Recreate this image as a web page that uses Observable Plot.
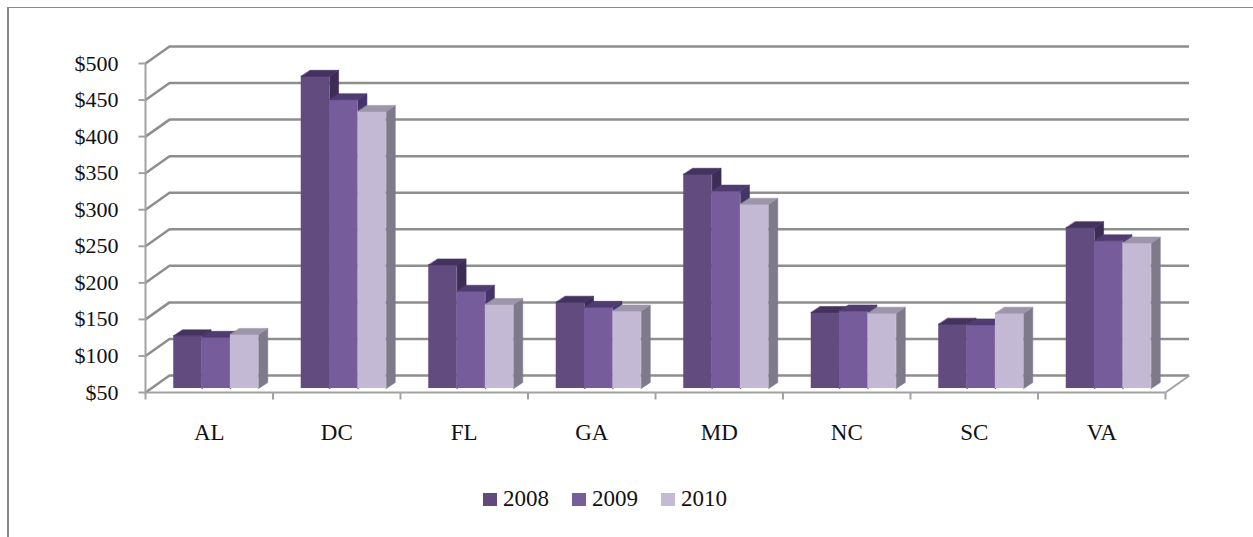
<!DOCTYPE html>
<html><head><meta charset="utf-8">
<script src="https://cdn.jsdelivr.net/npm/d3@7"></script>
<script src="https://cdn.jsdelivr.net/npm/@observablehq/plot@0.6"></script>
<style>
body{margin:0;background:#fff;}
#wrap{position:relative;width:1253px;height:537px;overflow:hidden;font-family:"Liberation Serif","Times New Roman",serif;}
#chart{position:absolute;left:0;top:0;}
#frame{position:absolute;left:7px;top:7px;width:1260px;height:540px;border-top:1px solid #888;border-left:2px solid #888;pointer-events:none;}
#legend{position:absolute;left:483px;top:486px;height:26px;display:flex;align-items:center;font-size:23px;color:#111;}
#legend .sw{width:14px;height:13px;margin-right:6px;}
#legend .it{display:flex;align-items:center;margin-right:23px;}
</style>
</head><body>
<div id="wrap"><div id="chart"></div><div id="legend"></div><div id="frame"></div></div>
<script>
const states = ["AL","DC","FL","GA","MD","NC","SC","VA"];
const years = ["2008","2009","2010"];
const v2008 = [122,477,219,168,343,154,138,270];
const v2009 = [120,445,183,161,320,156,137,252];
const v2010 = [124,429,165,156,302,153,153,249];
const yTicks = [50,100,150,200,250,300,350,400,450,500];

const seriesValues = [v2008, v2009, v2010];
const frontColors = ["#624c7f","#775c9b","#c3b9d4"];
const topColors = ["#45335f","#4f3c70","#9d96aa"];
const sideColors = ["#3d2c56","#45336a","#7e7a8a"];
const legendColors = ["#604a7b","#775d9b","#c4bad5"];

const W = 1253, H = 460, ML = 145, MR = 88, MT = 63, MB = H - 392;
const n = states.length;
const kx = (W - ML - MR) / n;       // px per x unit
const ky = (H - MT - MB) / 450;     // px per $
const wallX = 24 / kx, wallY = 17 / ky;
const barX = 9 / kx, barY = 6 / ky;
const barW = 2 / 9, barStart = 1 / 6;
const planeDx = 7, planeDy = -4;

const gridColor = "#8e8e8e";
const axisColor = "#a2a2a2";

const barMarks = [];
seriesValues.forEach((vals, s) => {
  const fronts = [], tops = [], sides = [];
  vals.forEach((v, i) => {
    const xl = i + barStart + s * barW, xr = xl + barW;
    fronts.push({x1: xl, x2: xr, y1: 50, y2: v});
    const id = states[i] + years[s];
    [[xl, v], [xr, v], [xr + barX, v + barY], [xl + barX, v + barY]].forEach(p => tops.push({id, x: p[0], y: p[1]}));
    [[xr, 50], [xr + barX, 50 + barY], [xr + barX, v + barY], [xr, v]].forEach(p => sides.push({id, x: p[0], y: p[1]}));
  });
  barMarks.push(
    Plot.line(sides, {x: "x", y: "y", z: "id", fill: sideColors[s], stroke: sideColors[s], strokeWidth: 0.6, curve: "linear-closed", dx: planeDx, dy: planeDy}),
    Plot.rect(fronts, {x1: "x1", x2: "x2", y1: "y1", y2: "y2", fill: frontColors[s], inset: 0, dx: planeDx, dy: planeDy}),
    Plot.line(tops, {x: "x", y: "y", z: "id", fill: topColors[s], stroke: topColors[s], strokeWidth: 0.6, curve: "linear-closed", dx: planeDx, dy: planeDy})
  );
});

const chart = Plot.plot({
  width: W, height: H,
  marginLeft: ML, marginRight: MR, marginTop: MT, marginBottom: MB,
  x: {domain: [0, n], axis: null},
  y: {domain: [50, 500], axis: null},
  style: {fontFamily: '"Liberation Serif","Times New Roman",serif', background: "transparent", color: "#111"},
  marks: [
    Plot.ruleY(yTicks, {x1: 0, x2: n, dx: 24, dy: -17, stroke: gridColor, strokeWidth: 2.5}),
    Plot.link(yTicks, {x1: 0, y1: d => d, x2: wallX, y2: d => d + wallY, stroke: gridColor, strokeWidth: 2.5}),
    Plot.link([50], {x1: n, y1: d => d, x2: n + wallX, y2: d => d + wallY, stroke: axisColor, strokeWidth: 2}),
    Plot.ruleY([50], {x1: 0, x2: n, stroke: axisColor, strokeWidth: 2}),
    Plot.ruleX([0], {y1: 50, y2: 500, stroke: axisColor, strokeWidth: 2}),
    Plot.link(yTicks, {x1: 0, x2: -7 / kx, y1: d => d, y2: d => d, stroke: axisColor, strokeWidth: 2}),
    Plot.link(d3.range(n + 1), {x1: d => d, x2: d => d, y1: 50, y2: 50 - 7 / ky, stroke: axisColor, strokeWidth: 2}),
    Plot.text(yTicks, {x: 0, y: d => d, text: d => "$" + d, textAnchor: "end", dx: -27, fontSize: 22, fill: "#111"}),
    Plot.text(states, {x: (d, i) => i + 0.5, y: () => 50, text: d => d, dy: 40, fontSize: 23, fill: "#111"}),
    ...barMarks
  ]
});
document.getElementById("chart").appendChild(chart);

const leg = document.getElementById("legend");
years.forEach((y, i) => {
  const it = document.createElement("div");
  it.className = "it";
  const sw = document.createElement("div");
  sw.className = "sw";
  sw.style.background = legendColors[i];
  const t = document.createElement("span");
  t.textContent = y;
  it.appendChild(sw); it.appendChild(t);
  leg.appendChild(it);
});
</script>
</body></html>
